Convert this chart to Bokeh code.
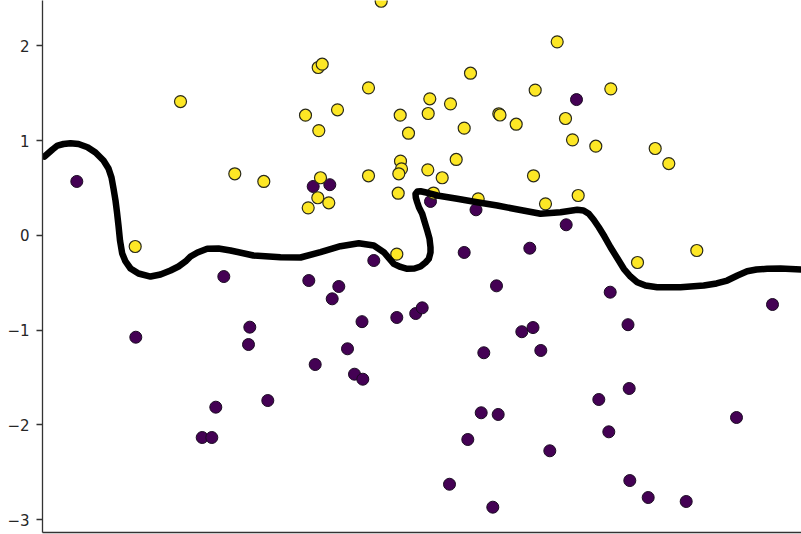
from bokeh.plotting import figure
from bokeh.models import FixedTicker, LinearAxis, ColumnDataSource
from bokeh.embed import file_html
from bokeh.resources import INLINE

# Class 1 (yellow) points
yellow_x = [-0.413, 1.347, -2.42, -1.043, -1.003, 0.48, -0.54, 1.127, 1.883, -1.17,
            -0.85, -0.223, 0.073, 0.057, 0.28, 0.763, 0.775, 0.937, -1.037, -0.14,
            0.417, 1.43, 1.5, 1.733, 2.327, 2.463, 0.337, -0.22, -0.21, -0.237,
            0.053, 0.197, -0.54, 1.11, -1.02, -1.877, -1.587, -1.047, -0.937, -1.143,
            -0.243, 0.11, 0.557, 1.23, 1.557, -2.873, -0.257, 2.15, 2.743]
yellow_y = [2.469, 2.041, 1.411, 1.770, 1.805, 1.710, 1.556, 1.531, 1.545, 1.267,
            1.324, 1.267, 1.440, 1.285, 1.387, 1.282, 1.269, 1.172, 1.105, 1.077,
            1.130, 1.232, 1.007, 0.940, 0.916, 0.757, 0.800, 0.782, 0.701, 0.649,
            0.691, 0.607, 0.628, 0.628, 0.607, 0.649, 0.568, 0.396, 0.343, 0.290,
            0.444, 0.446, 0.385, 0.332, 0.420, -0.118, -0.199, -0.287, -0.160]

# Class 0 (purple) points
purple_x = [-3.457, -2.867, -1.987, -1.727, -1.74, -1.547, -2.067, -2.203, -2.107, -1.137,
            -1.073, -0.837, -0.903, -0.75, -0.68, -0.597, -0.605, -0.487, -0.257, -0.068,
            -0.003, 0.08, 0.417, 0.535, 0.613, 0.74, 0.587, 0.757, 0.453, 0.27,
            0.703, 1.073, 0.993, 1.105, 1.183, 1.273, 1.437, 1.54, 1.763, 1.863,
            1.877, 2.055, 2.067, 2.073, 2.257, 2.637, 3.14, 3.5, -1.093, -0.927]
purple_y = [0.568, -1.075, -0.435, -0.969, -1.152, -1.743, -1.813, -2.133, -2.133, -0.477,
            -1.363, -0.540, -0.670, -1.197, -1.465, -1.518, -0.911, -0.266, -0.867, -0.825,
            -0.765, 0.357, -0.181, 0.269, -1.239, -0.533, -1.872, -1.890, -2.154, -2.626,
            -2.868, -0.136, -1.017, -0.973, -1.215, -2.273, 0.111, 1.432, -1.732, -2.073,
            -0.600, -0.943, -1.616, -2.587, -2.766, -2.808, -1.922, -0.730, 0.515, 0.534]

# Decision boundary
boundary_x = [-3.78, -3.70, -3.65, -3.59, -3.52, -3.44, -3.35, -3.27, -3.19, -3.14,
              -3.11, -3.09, -3.07, -3.055, -3.04, -3.025, -3.003, -2.97, -2.92, -2.84,
              -2.72, -2.62, -2.52, -2.44, -2.37, -2.32, -2.25, -2.153, -2.04, -1.92,
              -1.69, -1.42, -1.22, -1.02, -0.82, -0.637, -0.487, -0.387, -0.287, -0.22,
              -0.153, -0.08, -0.02, 0.03, 0.063, 0.08, 0.08, 0.07, 0.047, 0.02,
              -0.003, -0.035, -0.053, -0.067, -0.07, -0.05, -0.02, 0.06, 0.147, 0.347,
              0.547, 0.747, 0.913, 1.18, 1.38, 1.547, 1.61, 1.663, 1.71, 1.763,
              1.82, 1.88, 1.95, 2.013, 2.08, 2.147, 2.23, 2.347, 2.58, 2.813,
              2.94, 3.047, 3.15, 3.247, 3.34, 3.447, 3.58, 3.79]
boundary_y = [0.831, 0.905, 0.947, 0.963, 0.972, 0.963, 0.929, 0.873, 0.789, 0.705,
              0.610, 0.494, 0.367, 0.241, 0.103, -0.055, -0.192, -0.276, -0.350, -0.403,
              -0.435, -0.414, -0.371, -0.329, -0.276, -0.224, -0.181, -0.142, -0.139, -0.160,
              -0.213, -0.231, -0.234, -0.178, -0.115, -0.083, -0.108, -0.178, -0.301, -0.334,
              -0.353, -0.350, -0.329, -0.287, -0.248, -0.181, -0.126, -0.034, 0.051, 0.146,
              0.227, 0.293, 0.349, 0.399, 0.438, 0.462, 0.465, 0.446, 0.420, 0.385,
              0.349, 0.314, 0.280, 0.227, 0.244, 0.269, 0.262, 0.227, 0.167, 0.085,
              -0.013, -0.126, -0.245, -0.353, -0.435, -0.495, -0.530, -0.547, -0.547, -0.530,
              -0.508, -0.477, -0.424, -0.379, -0.361, -0.353, -0.350, -0.361]

y_ticks = [-3, -2, -1, 0, 1, 2]
y_tick_labels = ["\u22123", "\u22122", "\u22121", "0", "1", "2"]

p = figure(width=801, height=534, x_range=(-3.8, 3.79), y_range=(-3.135, 2.477),
           output_backend="svg", toolbar_location=None,
           x_axis_location=None, y_axis_location="left",
           min_border_left=42, min_border_right=0, min_border_top=0, min_border_bottom=2)
p.outline_line_color = None
p.grid.visible = False
p.background_fill_color = "white"
p.border_fill_color = "white"

ya = p.yaxis[0]
ya.ticker = FixedTicker(ticks=y_ticks)
ya.major_label_overrides = {t: l for t, l in zip(y_ticks, y_tick_labels)}
ya.major_tick_out = 6
ya.major_tick_in = 0
ya.minor_tick_line_color = None
ya.axis_line_color = "#333333"
ya.axis_line_width = 1.3
ya.major_tick_line_color = "#333333"
ya.major_tick_line_width = 1.3
ya.major_label_standoff = 7
ya.major_label_text_font = "DejaVu Sans"
ya.major_label_text_font_size = "15px"
ya.major_label_text_color = "#262626"

xa = LinearAxis(ticker=FixedTicker(ticks=[]), major_tick_out=0, major_tick_in=0,
                major_label_standoff=0, minor_tick_line_color=None,
                axis_line_color="#333333", axis_line_width=1.3)
p.add_layout(xa, "below")

psrc = ColumnDataSource(dict(x=purple_x, y=purple_y))
ysrc = ColumnDataSource(dict(x=yellow_x, y=yellow_y))
bsrc = ColumnDataSource(dict(x=boundary_x, y=boundary_y))

p.scatter("x", "y", source=psrc, marker="circle", size=12, fill_color="#440154",
          line_color="#1a0a22", line_width=1)
p.scatter("x", "y", source=ysrc, marker="circle", size=12, fill_color="#fde725",
          line_color="#2b2b1a", line_width=1.2)
p.line("x", "y", source=bsrc, line_color="black", line_width=6.5,
       line_cap="round", line_join="round")

open("out.html", "w").write(file_html(p, INLINE))
